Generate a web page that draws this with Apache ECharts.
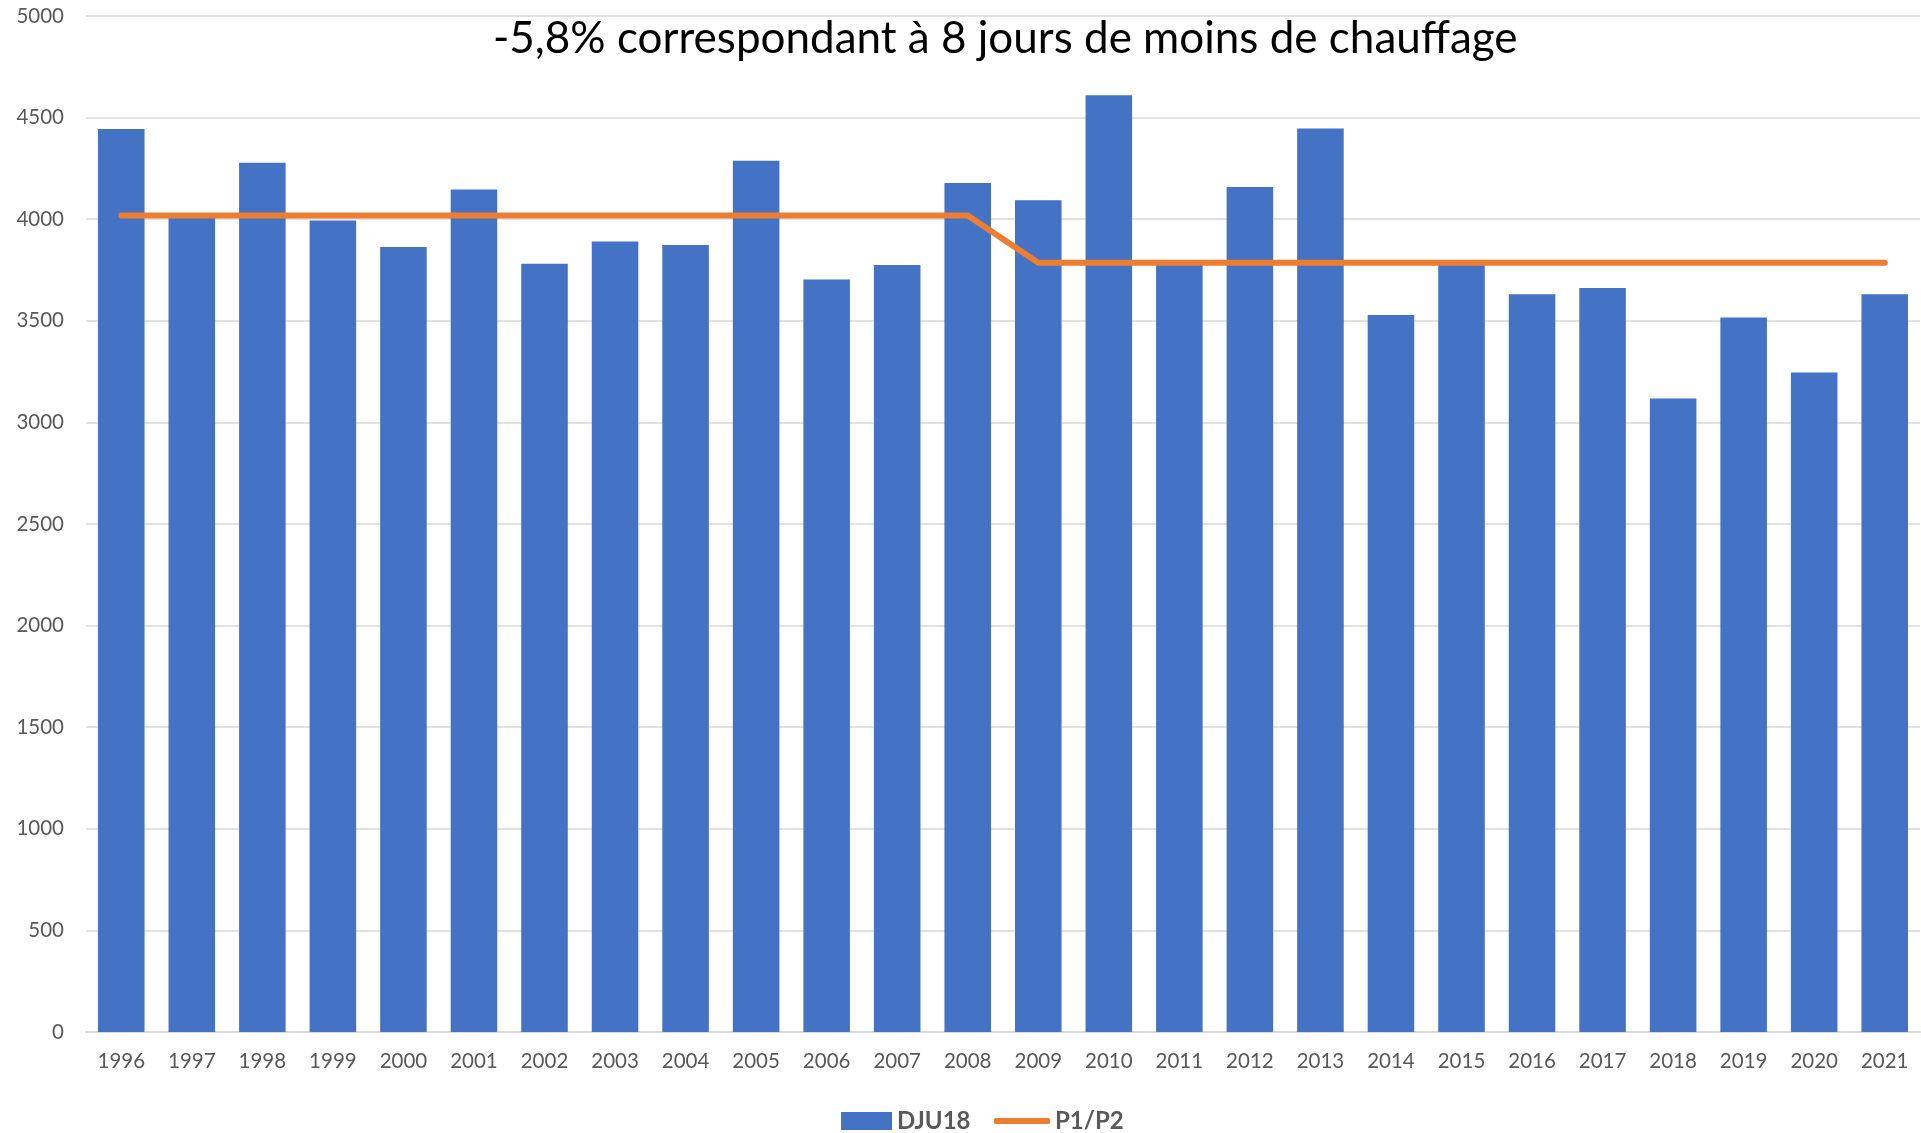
<!DOCTYPE html>
<html>
<head>
<meta charset="utf-8">
<script src="https://cdn.jsdelivr.net/npm/echarts@6/dist/echarts.min.js"></script>
<style>
  html, body { margin: 0; padding: 0; background: #fff; }
  #chart { width: 1921px; height: 1133px; }
</style>
</head>
<body>
<div id="chart"></div>
<script>
// années
const years = ['1996','1997','1998','1999','2000','2001','2002','2003','2004','2005','2006','2007','2008',
  '2009','2010','2011','2012','2013','2014','2015','2016','2017','2018','2019','2020','2021']
// degrés-jours unifiés base 18
const dju18 = [4444, 4008, 4278, 3993, 3863, 4146, 3781, 3890, 3873, 4288, 3703, 3775, 4178,
  4093, 4610, 3778, 4158, 4446, 3528, 3777, 3631, 3661, 3118, 3516, 3245, 3631]
// moyennes des deux périodes
const p1p2 = [4018, 4018, 4018, 4018, 4018, 4018, 4018, 4018, 4018, 4018, 4018, 4018, 4018,
  3786, 3786, 3786, 3786, 3786, 3786, 3786, 3786, 3786, 3786, 3786, 3786, 3786]
const yTicks = { min: 0, max: 5000, interval: 500 }

const FONT = 'Lato'
const legendText = { fontFamily: FONT, fontSize: 24, fontWeight: 'bold', color: '#595959' }
const chart = echarts.init(document.getElementById('chart'))
chart.setOption({
  animation: false,
  color: ['#4472C4', '#ED7D31'],
  title: {
    text: '-5,8% correspondant à 8 jours de moins de chauffage',
    left: 488,
    top: 12,
    textStyle: { fontFamily: FONT, fontSize: 44, fontWeight: 'normal', color: '#000' }
  },
  legend: [
    {
      top: 1104,
      left: 836,
      itemWidth: 51,
      itemHeight: 18,
      itemGap: 0,
      textStyle: legendText,
      data: [{ name: 'DJU18', icon: 'rect' }]
    },
    {
      top: 1104,
      left: 989,
      itemWidth: 56,
      itemHeight: 6,
      itemGap: 0,
      textStyle: legendText,
      data: [{ name: 'P1/P2', icon: 'roundRect', itemStyle: { color: '#ED7D31' } }]
    }
  ],
  grid: { left: 86, right: 1, top: 16, bottom: 101 },
  xAxis: {
    type: 'category',
    data: years,
    axisTick: { show: false },
    axisLine: { lineStyle: { color: '#D9D9D9', width: 2 } },
    axisLabel: { fontFamily: FONT, fontSize: 20.5, color: '#595959', margin: 19 }
  },
  yAxis: {
    type: 'value',
    min: yTicks.min,
    max: yTicks.max,
    interval: yTicks.interval,
    axisLine: { show: false },
    axisTick: { show: false },
    axisLabel: { fontFamily: FONT, fontSize: 20.5, color: '#595959', margin: 22, formatter: v => String(v) },
    splitLine: { lineStyle: { color: '#D9D9D9', width: 1.5 } }
  },
  series: [
    {
      name: 'DJU18',
      type: 'bar',
      data: dju18,
      barCategoryGap: '34%',
      itemStyle: { color: '#4472C4' }
    },
    {
      name: 'P1/P2',
      type: 'line',
      data: p1p2,
      symbol: 'none',
      lineStyle: { color: '#ED7D31', width: 6, cap: 'round' },
      itemStyle: { color: '#ED7D31' },
      z: 3
    }
  ]
})
</script>
</body>
</html>
